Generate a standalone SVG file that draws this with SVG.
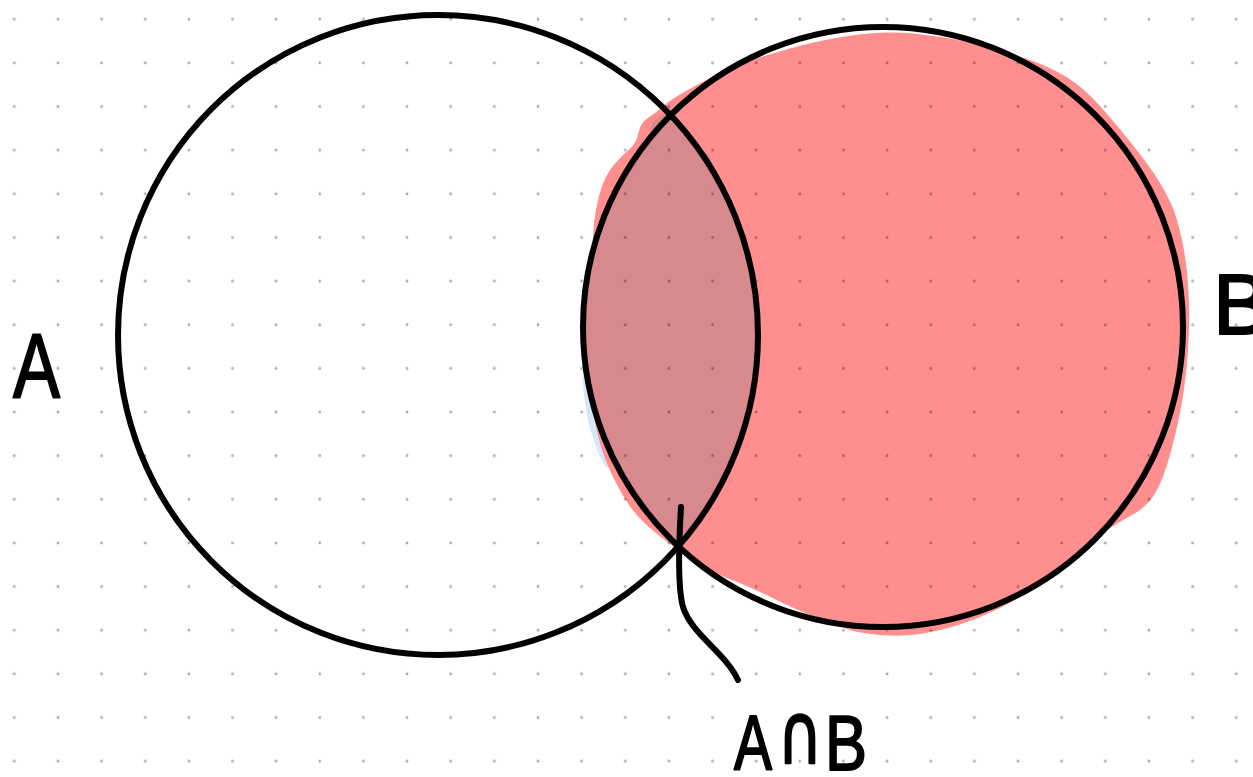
<svg xmlns="http://www.w3.org/2000/svg" width="1253" height="777" viewBox="0 0 1253 777">
  <defs>
    <pattern id="dots" patternUnits="userSpaceOnUse" x="-7.52" y="-2.52" width="43.64" height="43.64">
      <circle cx="21.82" cy="21.82" r="1.4" fill="#000" fill-opacity="0.33"/>
    </pattern>
    <style>
      .outline { fill: none; stroke: #000; stroke-width: 6; }
      .label { font-family: "Liberation Sans", "DejaVu Sans", sans-serif; fill: #000; stroke: #000; stroke-width: 2; stroke-linejoin: round; }
      .sym { font-family: "DejaVu Sans", sans-serif; fill: #000; stroke: #000; stroke-width: 2.5; stroke-linejoin: round; }
      .wire { fill: none; stroke: #000; stroke-width: 6; stroke-linecap: round; stroke-linejoin: round; }
    </style>
  </defs>

  <!-- paper -->
  <rect x="0" y="0" width="1253" height="777" fill="#fff"/>

  <!-- shading of set B and the overlap -->
  <g id="shading">
    <path d="M586,330 C579,372 582,424 606,468 L614,462 C597,420 591,378 593,330 Z" fill="#d6e7f9"/>
    <path fill="#ff8f8f" d="M851.5,35.5
      Q883,31 906.5,33 Q930,35 950,38.5 Q970,42 990,47.5 Q1010,53 1030,60 Q1050,67 1066.5,77
      Q1083,87 1100,106 Q1117,125 1132,144 Q1147,163 1156,176.5 Q1165,190 1171,203.5 Q1177,217 1182,240
      Q1187,263 1188.5,291.5 Q1190,320 1188,350 Q1186,380 1181.5,405 Q1177,430 1170,455 Q1163,480 1155,493.5
      Q1147,507 1132,515 Q1117,523 1105,531.5 Q1093,540 1076.5,554 Q1060,568 1040,583 Q1020,598 1000,608
      Q980,618 960,624.5 Q940,631 920,634 Q900,637 880,635 Q860,633 850,630 Q840,627 815,617
      Q790,607 773.5,598.5 Q757,590 732,580 Q707,570 690,558.5 Q673,547 656.5,533.5 Q640,520 631.5,508.5
      Q623,497 613,477 Q603,457 597.5,433.5 Q592,410 590,385 Q588,360 589,340 Q590,320 591,300
      Q592,280 592.5,250 Q593,220 598,200 Q603,180 610,170 Q617,160 627,151.5 Q637,143 638.5,133
      Q640,123 648.5,117.5 Q657,112 663.5,106 Q670,100 685,91.5 Q700,83 715,75.5 Q730,68 745,62.5
      Q760,57 790,48.5 Q820,40 851.5,35.5 Z"/>
    <path fill="#d8898e" d="M670.6,115.2 A300,300 0 0 0 678.3,546.3 A320,320 0 0 0 670.6,115.2 Z"/>
    <path fill="#d8898e" d="M668,112 C658,116 648,124 650,136 L664,128 Z"/>
    <path fill="#d8898e" d="M698,148 C708,152 714,160 713,170 L704,162 Z"/>
  </g>

  <!-- dot grid -->
  <rect x="0" y="0" width="1253" height="777" fill="url(#dots)"/>

  <g id="set-a">
    <circle class="outline" cx="438" cy="335" r="320"/>
    <text class="label" x="13" y="397" font-size="90" textLength="47" lengthAdjust="spacingAndGlyphs">A</text>
  </g>

  <g id="set-b">
    <circle class="outline" cx="883" cy="327" r="300"/>
    <text class="label" x="1213" y="334" font-size="85">B</text>
  </g>

  <g id="connectors">
    <path class="wire" d="M681,507 C679,540 677,585 683,607 C692,635 725,652 738,680"/>
  </g>

  <g id="intersection-label">
    <text class="label" x="734" y="770" font-size="77" textLength="38" lengthAdjust="spacingAndGlyphs">A</text>
    <text class="sym" transform="translate(800,763) scale(0.72,1)" text-anchor="middle" font-size="84">∩</text>
    <text class="label" x="825" y="770" font-size="77" textLength="42" lengthAdjust="spacingAndGlyphs">B</text>
  </g>
</svg>
